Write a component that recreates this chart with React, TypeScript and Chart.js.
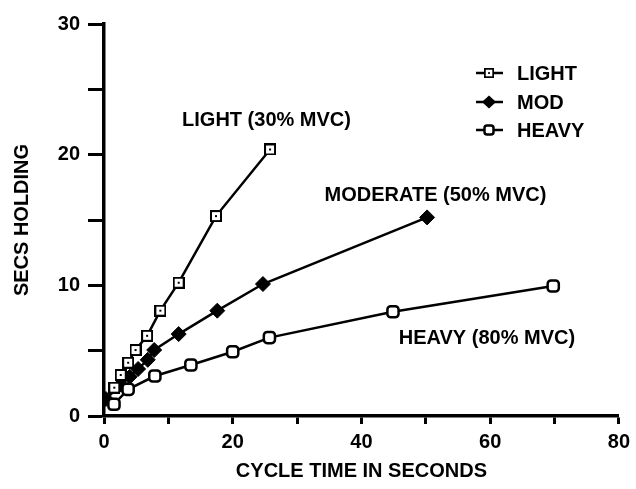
import React, { useEffect, useRef } from 'react';
import { Chart, registerables } from 'chart.js';

Chart.register(...registerables);

// ---- data ----
const lightX = [1.6, 2.6, 3.75, 4.9, 6.7, 8.75, 11.6, 17.4, 25.8];
const lightY = [2.17, 3.14, 4.08, 5.05, 6.14, 8.06, 10.2, 15.3, 20.4];

const modX = [0.3, 2.6, 4.0, 5.3, 6.8, 7.8, 11.6, 17.6, 24.7, 50.2];
const modY = [1.3, 2.4, 3.0, 3.6, 4.3, 5.05, 6.27, 8.06, 10.1, 15.2];

const heavyX = [1.55, 3.75, 7.9, 13.5, 20.0, 25.7, 44.9, 69.8];
const heavyY = [0.9, 2.04, 3.06, 3.9, 4.92, 6.0, 7.98, 9.95];

const seriesNames = ['LIGHT', 'MOD', 'HEAVY'];
const xLabelValues = [0, 20, 40, 60, 80];
const yLabelValues = [0, 10, 20, 30];

const noteTexts = ['LIGHT (30% MVC)', 'MODERATE (50% MVC)', 'HEAVY (80% MVC)'];
const noteX = [25.25, 51.5, 59.5];
const noteY = [22.6, 16.9, 5.97];

const FONT = '"Liberation Sans", Arial, Helvetica, sans-serif';

let lightImgCache: HTMLCanvasElement | null = null;
function getLightPoint(): HTMLCanvasElement {
  if (lightImgCache) return lightImgCache;
  const c = document.createElement('canvas');
  c.width = 12;
  c.height = 12;
  const g = c.getContext('2d')!;
  g.fillStyle = '#fff';
  g.fillRect(0, 0, 12, 12);
  g.strokeStyle = '#000';
  g.lineWidth = 2;
  g.strokeRect(1, 1, 10, 10);
  g.fillStyle = '#000';
  g.fillRect(5, 5, 2, 2);
  lightImgCache = c;
  return c;
}

function toPts(xs: number[], ys: number[]) {
  return xs.map((x, i) => ({ x, y: ys[i] }));
}

const overlayPlugin = {
  id: 'overlay',
  afterDatasetsDraw(chart: any) {
    const ctx: CanvasRenderingContext2D = chart.ctx;
    const xs = chart.scales.x;
    const ys = chart.scales.y;
    ctx.save();
    ctx.fillStyle = '#000';
    ctx.font = `bold 20px ${FONT}`;
    ctx.textAlign = 'center';
    ctx.textBaseline = 'middle';
    noteTexts.forEach((t, i) => {
      ctx.fillText(t, xs.getPixelForValue(noteX[i]), ys.getPixelForValue(noteY[i]));
    });

    // legend
    const lightImg = getLightPoint();
    const rows = [73, 102, 130];
    const cx = 489;
    ctx.textAlign = 'left';
    seriesNames.forEach((name, i) => {
      const y = rows[i];
      ctx.strokeStyle = '#000';
      ctx.lineWidth = 2.5;
      ctx.beginPath();
      ctx.moveTo(476, y);
      ctx.lineTo(503, y);
      ctx.stroke();
      if (i === 0) {
        ctx.drawImage(lightImg, cx - 5, y - 5, 10, 10);
      } else if (i === 1) {
        ctx.fillStyle = '#000';
        ctx.beginPath();
        ctx.moveTo(cx, y - 6.5);
        ctx.lineTo(cx + 7, y);
        ctx.lineTo(cx, y + 6.5);
        ctx.lineTo(cx - 7, y);
        ctx.closePath();
        ctx.fill();
      } else {
        ctx.fillStyle = '#fff';
        ctx.lineWidth = 2.5;
        ctx.beginPath();
        (ctx as any).roundRect(cx - 4.5, y - 4.5, 9, 9, 2.5);
        ctx.fill();
        ctx.stroke();
      }
      ctx.fillStyle = '#000';
      ctx.fillText(name, 517, y + 1);
    });
    ctx.restore();
  },
};

export default function App() {
  const ref = useRef<HTMLCanvasElement | null>(null);

  useEffect(() => {
    if (!ref.current) return;
    const lightImg = getLightPoint();
    const chart = new Chart(ref.current, {
      type: 'line',
      data: {
        datasets: [
          {
            label: seriesNames[0],
            data: toPts(lightX, lightY),
            borderColor: '#000',
            borderWidth: 2.5,
            pointStyle: lightImg as any,
            pointRadius: 6,
            backgroundColor: '#fff',
          },
          {
            label: seriesNames[2],
            data: toPts(heavyX, heavyY),
            borderColor: '#000',
            borderWidth: 2.5,
            pointStyle: 'rectRounded',
            pointRadius: 6.5,
            pointBorderWidth: 2.5,
            pointBackgroundColor: '#fff',
            pointBorderColor: '#000',
          },
          {
            label: seriesNames[1],
            data: toPts(modX, modY),
            borderColor: '#000',
            borderWidth: 2.5,
            pointStyle: 'rectRot',
            pointRadius: 7.5,
            pointBorderWidth: 1,
            pointBackgroundColor: '#000',
            pointBorderColor: '#000',
          },
        ],
      },
      options: {
        animation: false,
        responsive: false,
        layout: { padding: { top: 24, right: 14, left: 0, bottom: 0 } },
        plugins: { legend: { display: false }, tooltip: { enabled: false } },
        scales: {
          x: {
            type: 'linear',
            min: 0,
            max: 80,
            afterFit: (s: any) => {
              s.height = 73;
            },
            ticks: {
              stepSize: 10,
              padding: 6,
              color: '#000',
              font: { family: FONT, size: 20, weight: 'bold' },
              callback: (v: any) => (xLabelValues.includes(Number(v)) ? String(v) : ''),
            },
            grid: {
              drawOnChartArea: false,
              drawTicks: true,
              tickLength: 8,
              tickWidth: 3,
              tickColor: '#000',
            },
            border: { display: true, color: '#000', width: 3.5 },
            title: {
              display: true,
              text: 'CYCLE TIME IN SECONDS',
              color: '#000',
              font: { family: FONT, size: 20, weight: 'bold' },
              padding: { top: 0, bottom: 6 },
            },
          },
          y: {
            type: 'linear',
            min: 0,
            max: 30,
            afterFit: (s: any) => {
              s.width = 104;
            },
            ticks: {
              stepSize: 5,
              padding: 8,
              color: '#000',
              font: { family: FONT, size: 20, weight: 'bold' },
              callback: (v: any) => (yLabelValues.includes(Number(v)) ? String(v) : ''),
            },
            grid: {
              drawOnChartArea: false,
              drawTicks: true,
              tickLength: 16,
              tickWidth: 3,
              tickColor: '#000',
            },
            border: { display: true, color: '#000', width: 3.5 },
            title: {
              display: true,
              text: 'SECS HOLDING',
              color: '#000',
              font: { family: FONT, size: 20, weight: 'bold' },
              padding: { top: 10, bottom: 0 },
            },
          },
        },
      },
      plugins: [overlayPlugin as any],
    });
    return () => chart.destroy();
  }, []);

  return (
    <div style={{ position: 'fixed', left: 0, top: 0, width: 636, height: 489, background: '#fff' }}>
      <canvas ref={ref} width={636} height={489} style={{ width: 636, height: 489, display: 'block' }} />
    </div>
  );
}
